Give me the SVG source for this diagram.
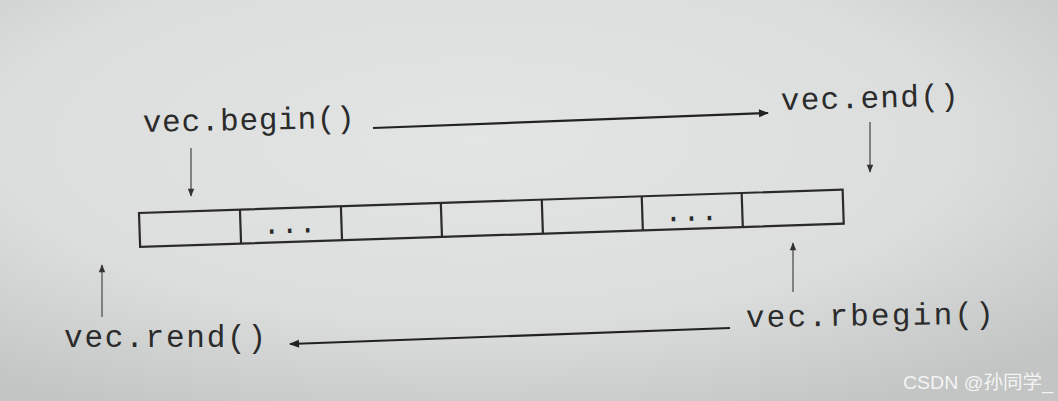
<svg xmlns="http://www.w3.org/2000/svg" width="1058" height="401" viewBox="0 0 1058 401">
  <defs>
    <radialGradient id="bg" cx="0.45" cy="0.35" r="0.75">
      <stop offset="0" stop-color="#e3e5e4"/>
      <stop offset="0.6" stop-color="#dcdedd"/>
      <stop offset="1" stop-color="#c2c5c4"/>
    </radialGradient>
    <marker id="ah" viewBox="0 0 10 10" refX="9" refY="5" markerWidth="14" markerHeight="10" markerUnits="userSpaceOnUse" orient="auto">
      <path d="M0,1 L10,5 L0,9 Z" fill="#222"/>
    </marker>
    <marker id="ahs" viewBox="0 0 10 10" refX="9" refY="5" markerWidth="12" markerHeight="8" markerUnits="userSpaceOnUse" orient="auto">
      <path d="M0,1 L10,5 L0,9 Z" fill="#333"/>
    </marker>
  </defs>
  <style>
    .lbl { font-family: "Liberation Mono", "Courier New", monospace; font-size: 31px; fill: #2b2b2b; }
    .dots { font-family: "Liberation Mono", "Courier New", monospace; font-size: 30px; fill: #2b2b2b; }
    .cell { fill: none; stroke: #2a2a2a; stroke-width: 2.2; }
    .main { fill: none; stroke: #222; stroke-width: 2.2; }
    .short { fill: none; stroke: #6a6a6a; stroke-width: 1.6; }
    .wm { font-family: "Liberation Sans", "Noto Sans CJK SC", sans-serif; font-size: 19px; fill: #f4f4f4; }
  </style>
  <rect width="1058" height="401" fill="url(#bg)"/>

  <g id="array" transform="rotate(-1.9 139 213)">
    <rect class="cell" x="139" y="213" width="704" height="34"/>
    <line class="cell" x1="240" y1="213" x2="240" y2="247"/>
    <line class="cell" x1="341" y1="213" x2="341" y2="247"/>
    <line class="cell" x1="441" y1="213" x2="441" y2="247"/>
    <line class="cell" x1="542" y1="213" x2="542" y2="247"/>
    <line class="cell" x1="642" y1="213" x2="642" y2="247"/>
    <line class="cell" x1="742" y1="213" x2="742" y2="247"/>
    <text class="dots" x="262" y="238">...</text>
    <text class="dots" x="664" y="239">...</text>
  </g>

  <g id="label-begin"><text class="lbl" x="143" y="132" textLength="212" transform="rotate(-1.2 143 132)">vec.begin()</text></g>
  <g id="label-end"><text class="lbl" x="781" y="110" textLength="178" transform="rotate(-1.5 781 110)">vec.end()</text></g>
  <g id="label-rend"><text class="lbl" x="64" y="347" textLength="202">vec.rend()</text></g>
  <g id="label-rbegin"><text class="lbl" x="746" y="327" textLength="248" transform="rotate(-0.8 746 327)">vec.rbegin()</text></g>

  <g id="connectors">
    <line class="main" x1="373" y1="128" x2="768" y2="113" marker-end="url(#ah)"/>
    <line class="main" x1="730" y1="328" x2="290" y2="344" marker-end="url(#ah)"/>
    <line class="short" x1="191" y1="148" x2="191" y2="196" marker-end="url(#ahs)"/>
    <line class="short" x1="870" y1="122" x2="870" y2="172" marker-end="url(#ahs)"/>
    <line class="short" x1="793" y1="292" x2="793" y2="243" marker-end="url(#ahs)"/>
    <line class="short" x1="102" y1="317" x2="102" y2="265" marker-end="url(#ahs)"/>
  </g>

  <text class="wm" x="903" y="389" textLength="150" lengthAdjust="spacingAndGlyphs">CSDN @孙同学_</text>
</svg>
